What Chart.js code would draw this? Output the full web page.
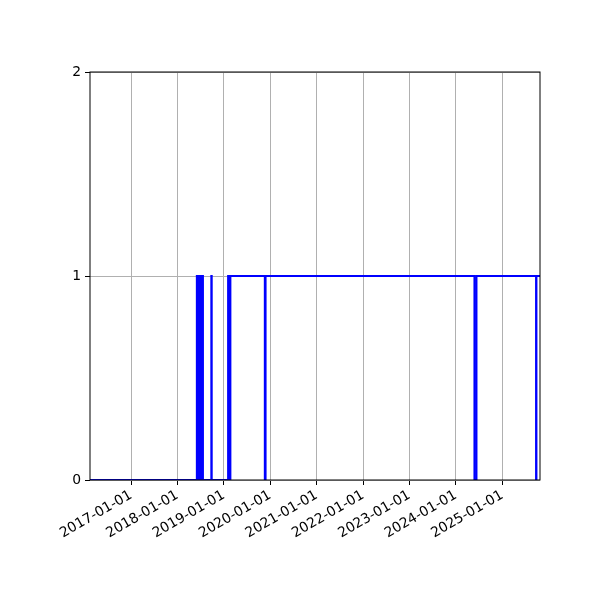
<!DOCTYPE html>
<html>
<head>
<meta charset="utf-8">
<script src="https://cdn.jsdelivr.net/npm/chart.js@4"></script>
<style>
  html, body { margin: 0; padding: 0; background: #fff; }
  #wrap { width: 600px; height: 600px; }
</style>
</head>
<body>
<div id="wrap"><canvas id="stateChart" width="600" height="600"></canvas></div>
<script>
// dates where the state changes, and the state from that date on
var changeDates = [
    '2016-02-13', '2018-06-03', '2018-06-09', '2018-06-13', '2018-06-19',
    '2018-06-24', '2018-06-30', '2018-07-04', '2018-07-11', '2018-07-15',
    '2018-07-21', '2018-09-25', '2018-09-28', '2019-02-04', '2019-02-12',
    '2019-02-22', '2019-11-20', '2019-11-26', '2024-05-27', '2024-06-12',
    '2025-09-24', '2025-09-27', '2025-10-25'
];
var stateValues = [
    0, 1, 0, 1, 0,
    1, 0, 1, 0, 1,
    0, 1, 0, 1, 0,
    1, 0, 1, 0, 1,
    0, 1, 1
];
var tickYears = [2017, 2018, 2019, 2020, 2021, 2022, 2023, 2024, 2025];
var yTicks = [0, 1, 2];

function toMs(s) {
    var p = s.split('-');
    return Date.UTC(+p[0], +p[1] - 1, +p[2]);
}

var points = changeDates.map(function (d, i) {
    return { x: toMs(d), y: stateValues[i] };
});

// black box around the plot, drawn over the line like matplotlib spines
var frame = {
    id: 'frame',
    afterDatasetsDraw: function (chart) {
        var a = chart.chartArea, c = chart.ctx;
        c.save();
        c.strokeStyle = '#000';
        c.lineWidth = 1;
        c.strokeRect(a.left, a.top, a.right - a.left, a.bottom - a.top);
        c.restore();
    }
};

var font = { family: 'DejaVu Sans', size: 13.9 };

var ctx = document.getElementById('stateChart').getContext('2d');
var chart = new Chart(ctx, {
    type: 'line',
    data: {
        datasets: [{
            data: points,
            borderColor: '#0000ff',
            borderWidth: 2,
            stepped: true,
            pointRadius: 0,
            fill: false
        }]
    },
    options: {
        responsive: false,
        animation: false,
        layout: { padding: { left: 0, right: 60, top: 72, bottom: 0 } },
        plugins: { legend: { display: false }, tooltip: { enabled: false } },
        scales: {
            x: {
                type: 'linear',
                min: points[0].x,
                max: points[points.length - 1].x,
                afterBuildTicks: function (scale) {
                    scale.ticks = tickYears.map(function (y) { return { value: Date.UTC(y, 0, 1) }; });
                },
                afterFit: function (scale) { scale.height = 120; },
                ticks: {
                    autoSkip: false,
                    minRotation: 30,
                    maxRotation: 30,
                    color: '#000',
                    padding: 2,
                    font: font,
                    callback: function (v) { return new Date(v).getUTCFullYear() + '-01-01'; }
                },
                grid: { color: '#b0b0b0', lineWidth: 1, tickColor: '#000', tickLength: 5 },
                border: { display: false }
            },
            y: {
                min: 0,
                max: 2,
                afterBuildTicks: function (scale) {
                    scale.ticks = yTicks.map(function (v) { return { value: v }; });
                },
                afterFit: function (scale) { scale.width = 90; },
                ticks: { color: '#000', padding: 4, font: font },
                grid: { color: '#b0b0b0', lineWidth: 1, tickColor: '#000', tickLength: 5 },
                border: { display: false }
            }
        }
    },
    plugins: [frame]
});
</script>
</body>
</html>
